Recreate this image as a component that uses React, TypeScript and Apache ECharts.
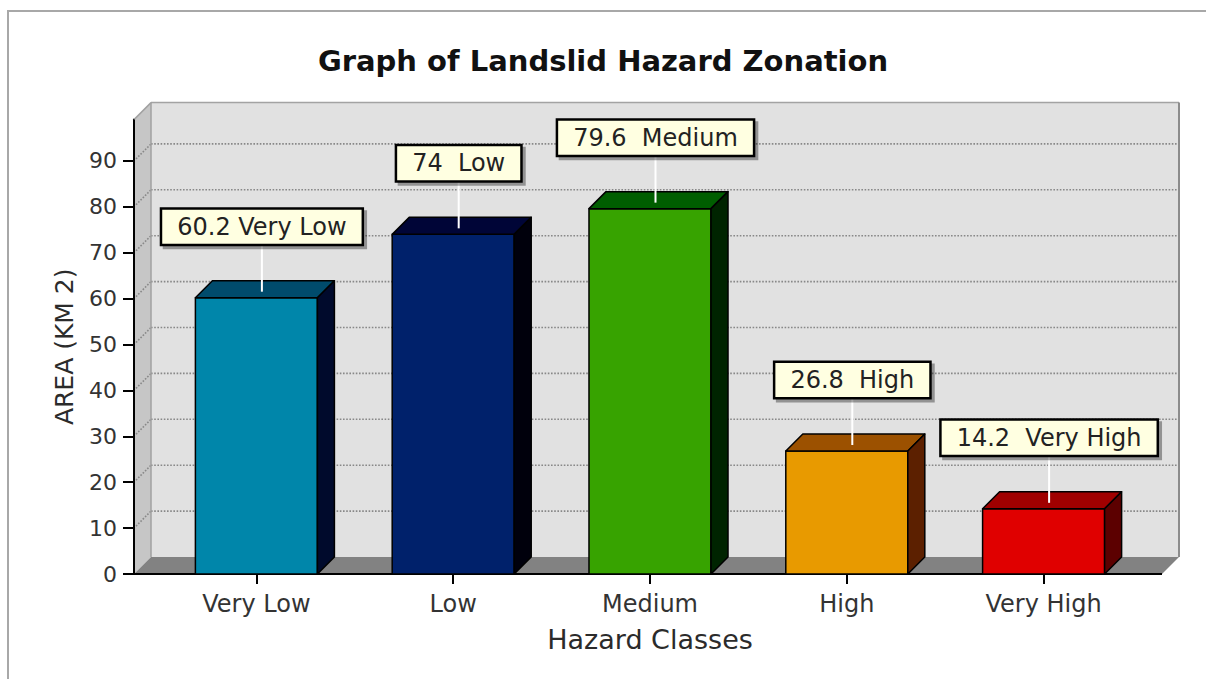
import React, { useEffect, useRef } from "react";
import * as echarts from "echarts";

// ---- data ----
const categories = ["Very Low", "Low", "Medium", "High", "Very High"];
const areaValues = [60.2, 74, 79.6, 26.8, 14.2];
const labelTexts = ["60.2 Very Low", "74  Low", "79.6  Medium", "26.8  High", "14.2  Very High"];
const yTickValues = [0, 10, 20, 30, 40, 50, 60, 70, 80, 90];
const yAxisMax = 99;

// ---- styling ----
const frontColors = ["#0086aa", "#00216b", "#37a300", "#e89a00", "#e00000"];
const topColors = ["#004b6c", "#000537", "#005e00", "#9c5100", "#a00000"];
const sideColors = ["#000a2c", "#00000c", "#002400", "#5c2000", "#5c0000"];
const DEPTH = 17;
const LEFT_EXT = 24;
const RIGHT_EXT = 20;
const FONT = "DejaVu Sans";

const renderWalls = (params: any, api: any) => {
  const cs = params.coordSys;
  const D = DEPTH;
  const fl = cs.x - LEFT_EXT;
  const fr = cs.x + cs.width + RIGHT_EXT;
  const baseY = api.coord([0, 0])[1];
  const topY = api.coord([0, yAxisMax])[1];
  const children: any[] = [];
  children.push({
    type: "rect",
    shape: { x: fl + D, y: topY - D, width: fr - fl, height: baseY - topY },
    style: { fill: "#e1e1e1" },
  });
  children.push({
    type: "polygon",
    shape: { points: [[fl, topY], [fl + D, topY - D], [fl + D, baseY - D], [fl, baseY]] },
    style: { fill: "#c6c6c6" },
  });
  children.push({
    type: "polygon",
    shape: { points: [[fl, baseY], [fl + D, baseY - D], [fr + D, baseY - D], [fr, baseY]] },
    style: { fill: "#828282" },
  });
  yTickValues.forEach((v) => {
    if (v === 0) return;
    const y = api.coord([0, v])[1];
    children.push({
      type: "line",
      shape: { x1: fl + D, y1: y - D, x2: fr + D, y2: y - D },
      style: { stroke: "#888888", lineWidth: 1.6, lineDash: [1.6, 1.6] },
    });
    children.push({
      type: "line",
      shape: { x1: fl + 2, y1: y - 2, x2: fl + D, y2: y - D },
      style: { stroke: "#888888", lineWidth: 1.6, lineDash: [1.6, 1.6] },
    });
  });
  const edge = (x1: number, y1: number, x2: number, y2: number, stroke: string, lw: number) => ({
    type: "line",
    shape: { x1, y1, x2, y2 },
    style: { stroke, lineWidth: lw },
  });
  children.push(edge(fl + D, topY - D, fr + D, topY - D, "#a3a3a3", 1.5));
  children.push(edge(fr + D, topY - D, fr + D, baseY - D, "#8c8c8c", 2));
  children.push(edge(fl + D, topY - D, fl + D, baseY - D, "#a0a0a0", 1.5));
  children.push(edge(fl, topY, fl + D, topY - D, "#a0a0a0", 1.5));
  children.push(edge(fl, baseY, fr, baseY, "#000", 2));
  children.push(edge(fl, topY, fl, baseY, "#000", 2));
  return { type: "group", children };
};

const renderBar = (params: any, api: any) => {
  const idx = params.dataIndex;
  const i = api.value(0);
  const v = api.value(1);
  const [xc, yTop] = api.coord([i, v]);
  const y0 = api.coord([i, 0])[1];
  const bw = api.size([1, 0])[0] * 0.62;
  const x1 = xc - bw / 2;
  const x2 = xc + bw / 2;
  const D = DEPTH;
  const edge = { stroke: "#000", lineWidth: 1.5, lineJoin: "round" };
  const lx = xc + 5.5;
  return {
    type: "group",
    children: [
      { type: "rect", shape: { x: x1, y: yTop, width: bw, height: y0 - yTop }, style: { fill: frontColors[idx], ...edge } },
      {
        type: "polygon",
        shape: { points: [[x1, yTop], [x1 + D, yTop - D], [x2 + D, yTop - D], [x2, yTop]] },
        style: { fill: topColors[idx], ...edge },
      },
      {
        type: "polygon",
        shape: { points: [[x2, yTop], [x2 + D, yTop - D], [x2 + D, y0 - D], [x2, y0]] },
        style: { fill: sideColors[idx], ...edge },
      },
      { type: "line", shape: { x1: lx, y1: yTop - 6, x2: lx, y2: yTop - 54 }, style: { stroke: "#ffffff", lineWidth: 2 } },
      {
        type: "text",
        x: lx,
        y: yTop - 54,
        style: {
          text: labelTexts[idx],
          align: "center",
          verticalAlign: "bottom",
          fontFamily: FONT,
          fontSize: 24,
          fill: "#222222",
          backgroundColor: "#ffffe1",
          borderColor: "#000",
          borderWidth: 2.5,
          padding: [5, 15, 5, 15],
          shadowColor: "rgba(0,0,0,0.35)",
          shadowOffsetX: 3,
          shadowOffsetY: 3,
          shadowBlur: 1,
        },
      },
    ],
  };
};

const option: any = {
  animation: false,
  backgroundColor: "#ffffff",
  title: {
    text: "Graph of Landslid Hazard Zonation",
    left: "center",
    top: 46,
    padding: [0, 0, 0, 20],
    textStyle: { fontFamily: FONT, fontWeight: "bold", fontSize: 29, color: "#111111" },
  },
  graphic: [
    {
      type: "rect",
      silent: true,
      shape: { x: 8, y: 11, width: 1400, height: 900 },
      style: { fill: "none", stroke: "#a8a8a8", lineWidth: 2 },
    },
  ],
  grid: { left: 158, right: 64, top: 119.6, bottom: 105 },
  xAxis: {
    type: "category",
    data: categories,
    axisLine: { show: false },
    axisTick: { show: true, alignWithLabel: true, length: 10, lineStyle: { color: "#000", width: 2 } },
    axisLabel: { margin: 18, fontFamily: FONT, fontSize: 24, color: "#333333" },
    splitLine: { show: false },
    name: "Hazard Classes",
    nameLocation: "middle",
    nameGap: 52,
    nameTextStyle: { fontFamily: FONT, fontSize: 27, color: "#2b2b2b" },
  },
  yAxis: {
    type: "value",
    min: 0,
    max: yAxisMax,
    interval: 10,
    offset: LEFT_EXT,
    axisLine: { show: true, lineStyle: { color: "#000", width: 2 } },
    axisTick: { show: true, length: 11, customValues: yTickValues, lineStyle: { color: "#000", width: 2 } },
    axisLabel: { customValues: yTickValues, margin: 17, fontFamily: FONT, fontSize: 22, color: "#333333" },
    splitLine: { show: false },
    name: "AREA (KM 2)",
    nameLocation: "middle",
    nameGap: 57,
    nameTextStyle: { fontFamily: FONT, fontSize: 25, color: "#2b2b2b" },
  },
  series: [
    {
      type: "custom",
      name: "walls",
      z: 1,
      clip: false,
      silent: true,
      data: [[0, 0]],
      encode: { x: 0, y: 1 },
      renderItem: renderWalls,
    },
    {
      type: "custom",
      name: "Area",
      z: 3,
      clip: false,
      data: areaValues.map((v, i) => [i, v]),
      encode: { x: 0, y: 1 },
      renderItem: renderBar,
    },
  ],
};

export default function App() {
  const ref = useRef<HTMLDivElement>(null);
  useEffect(() => {
    const chart = echarts.init(ref.current as HTMLDivElement, null, { renderer: "svg" });
    chart.setOption(option);
    return () => chart.dispose();
  }, []);
  return (
    <div
      ref={ref}
      style={{ position: "fixed", left: 0, top: 0, width: 1206, height: 679, background: "#ffffff" }}
    />
  );
}
